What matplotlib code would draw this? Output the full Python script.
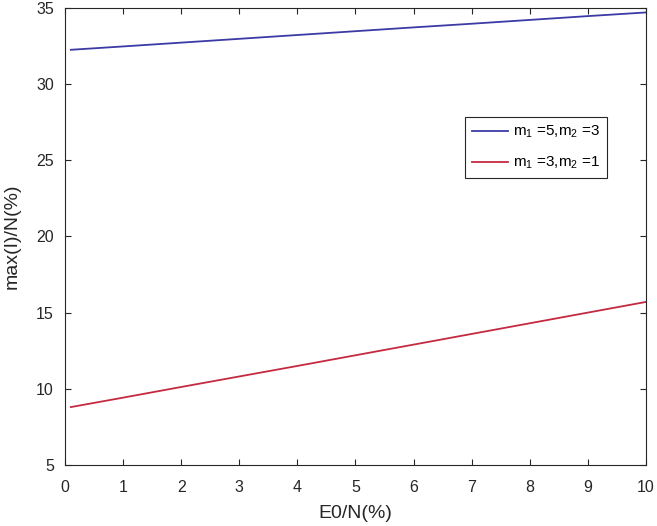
import matplotlib
matplotlib.use("Agg")
import matplotlib.pyplot as plt

plt.rcParams['font.family'] = ['Liberation Sans', 'DejaVu Sans']
plt.rcParams['mathtext.default'] = 'regular'

# E0/N (%) sample points
e0 = [0.1, 1, 2, 3, 4, 5, 6, 7, 8, 9, 10]
# max(I)/N (%) for each parameter set
blue_vals = [32.25, 32.47, 32.72, 32.97, 33.22, 33.47, 33.72, 33.96, 34.21, 34.46, 34.70]
red_vals = [8.80, 9.42, 10.12, 10.81, 11.50, 12.20, 12.90, 13.60, 14.30, 15.00, 15.70]
labels = [r'm$_1$ =5,m$_2$ =3', r'm$_1$ =3,m$_2$ =1']

fig = plt.figure(figsize=(6.57, 5.26), dpi=100)
ax = fig.add_axes([0.099, 0.116, 0.884, 0.869])

ax.plot(e0, blue_vals, color='#3b3ba6', lw=1.3, label=labels[0])
ax.plot(e0, red_vals, color='#c42a40', lw=1.3, label=labels[1])

ax.set_xlim(0, 10)
ax.set_ylim(5, 35)
ax.set_xticks(range(0, 11))
ax.set_yticks(range(5, 36, 5))
ax.tick_params(direction='in', top=True, right=True, labelsize=11.5,
               length=4, width=0.8, colors='#262626')
ax.tick_params(axis='x', pad=11)
ax.tick_params(axis='y', pad=8)
for s in ax.spines.values():
    s.set_color('#262626')
    s.set_linewidth(0.8)

ax.set_xlabel('E0/N(%)', fontsize=14, color='#262626', labelpad=7)
ax.set_ylabel('max(I)/N(%)', fontsize=14, color='#262626', labelpad=11)

leg = ax.legend(loc='upper right', bbox_to_anchor=(0.933, 0.761), fontsize=11,
                fancybox=False, edgecolor='#262626', framealpha=1,
                handlelength=2.4, borderpad=0.45, labelspacing=0.95,
                handletextpad=0.3, borderaxespad=0)
leg.get_frame().set_linewidth(0.8)

fig.savefig('out.png', dpi=100)
